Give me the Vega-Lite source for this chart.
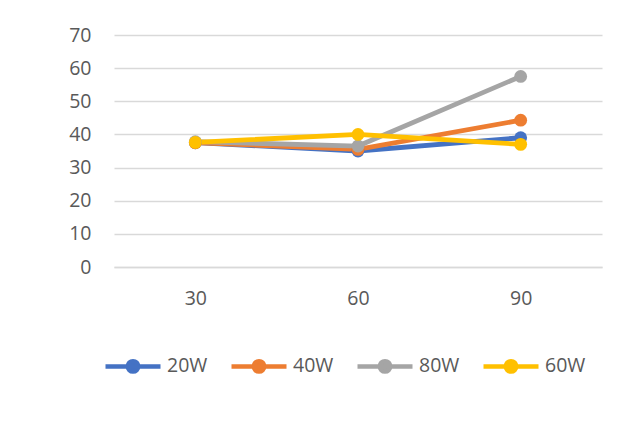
{
  "$schema": "https://vega.github.io/schema/vega-lite/v6.json",
  "width": 488,
  "height": 232,
  "autosize": {"type": "none"},
  "padding": {"left": 114, "top": 35, "right": 42, "bottom": 156},
  "background": "white",
  "config": {
    "view": {"stroke": null},
    "font": "Open Sans",
    "axis": {"labelFont": "Open Sans", "labelColor": "#595959", "labelFontSize": 19.5, "gridColor": "#D9D9D9", "gridWidth": 1.3, "ticks": false, "domain": false}
  },
  "data": {
    "values": [
      {"x": "30", "series": "20W", "v": 37.5},
      {"x": "60", "series": "20W", "v": 35.0},
      {"x": "90", "series": "20W", "v": 39.0},
      {"x": "30", "series": "40W", "v": 37.5},
      {"x": "60", "series": "40W", "v": 35.5},
      {"x": "90", "series": "40W", "v": 44.3},
      {"x": "30", "series": "80W", "v": 37.8},
      {"x": "60", "series": "80W", "v": 36.5},
      {"x": "90", "series": "80W", "v": 57.5},
      {"x": "30", "series": "60W", "v": 37.6},
      {"x": "60", "series": "60W", "v": 40.0},
      {"x": "90", "series": "60W", "v": 37.0}
    ]
  },
  "encoding": {
    "x": {"field": "x", "type": "ordinal", "sort": ["30", "60", "90"], "title": null,
      "scale": {"paddingInner": 0, "paddingOuter": 0},
      "axis": {"labelAngle": 0, "labelPadding": 22, "grid": false, "domain": true, "domainColor": "#D9D9D9", "domainWidth": 1.3}},
    "y": {"field": "v", "type": "quantitative", "title": null,
      "scale": {"domain": [0, 70], "nice": false},
      "axis": {"values": [0, 10, 20, 30, 40, 50, 60, 70], "labelPadding": 23, "grid": true}},
    "color": {"field": "series", "type": "nominal",
      "scale": {"domain": ["20W", "40W", "80W", "60W"], "range": ["#4472C4", "#ED7D31", "#A5A5A5", "#FFC000"]},
      "legend": {"title": null, "orient": "none", "legendX": -11, "legendY": 301, "direction": "horizontal",
        "symbolType": "M-1,0L1,0M-0.19,0A0.19,0.19 0 1,1 0.19,0A0.19,0.19 0 1,1 -0.19,0Z",
        "symbolSize": 3025, "symbolStrokeWidth": 4.5, "symbolOpacity": 1,
        "labelFont": "Open Sans", "labelFontSize": 19.5, "labelColor": "#595959", "labelOffset": 4, "columnPadding": 14}}
  },
  "layer": [
    {"mark": {"type": "line", "strokeWidth": 4.8, "strokeCap": "round"}, "encoding": {"order": {"field": "x"}, "detail": {"field": "series"}}},
    {"mark": {"type": "point", "filled": true, "size": 165, "opacity": 1}}
  ]
}
